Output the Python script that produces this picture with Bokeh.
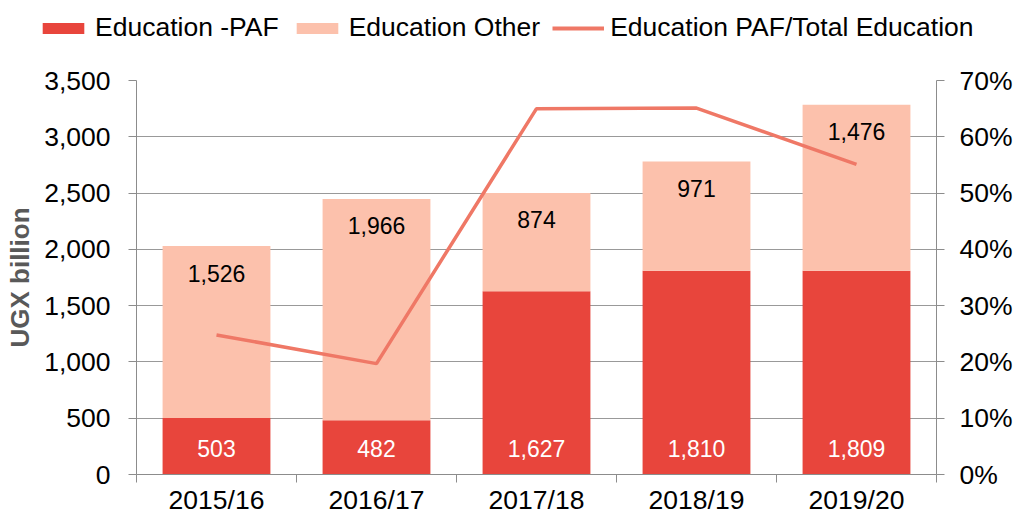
from bokeh.plotting import figure
from bokeh.layouts import column, row
from bokeh.models import (ColumnDataSource, LinearAxis, Range1d, FixedTicker,
                          NumeralTickFormatter, LabelSet, Legend, LegendItem)
from bokeh.core.properties import value
from bokeh.embed import file_html
from bokeh.resources import INLINE

# ---- data ----
years = ["2015/16", "2016/17", "2017/18", "2018/19", "2019/20"]
edu_paf = [503, 482, 1627, 1810, 1809]
edu_other = [1526, 1966, 874, 971, 1476]
paf_share = [0.248, 0.197, 0.650, 0.651, 0.551]
series_names = ["Education -PAF", "Education Other", "Education PAF/Total Education"]

FONT = "Liberation Sans"
RED = "#E8453C"
PEACH = "#FCC1AC"
LINE = "#EF7866"
GRID = "#999999"
AXIS = "#8C8C8C"
TICK_FS = "26.5px"

xpos = [i + 0.5 for i in range(len(years))]
total = [a + b for a, b in zip(edu_paf, edu_other)]
src = ColumnDataSource(dict(
    x=xpos, paf=edu_paf, other=edu_other, total=total, share=paf_share,
    zero=[0] * len(years),
    paf_lbl=[f"{v:,}" for v in edu_paf],
    other_lbl=[f"{v:,}" for v in edu_other],
))

# ---------------- main chart ----------------
p = figure(width=1015, height=467, output_backend="svg", toolbar_location=None,
           x_range=Range1d(0, len(years)), y_range=Range1d(0, 3500),
           min_border_left=136, min_border_right=78, min_border_top=30,
           min_border_bottom=43)
p.outline_line_color = None
p.extra_y_ranges = {"pct": Range1d(0, 0.7)}

p.vbar_stack(["paf", "other"], x="x", width=0.674, source=src,
             color=[RED, PEACH], line_color=None)
p.line("x", "share", source=src, y_range_name="pct",
       line_color=LINE, line_width=3.5)

ya = p.yaxis[0]
ya.ticker = FixedTicker(ticks=list(range(0, 3501, 500)))
ya.formatter = NumeralTickFormatter(format="0,0")
ya.axis_label = "UGX billion"
ya.axis_label_text_font = FONT
ya.axis_label_text_font_size = "26px"
ya.axis_label_text_font_style = "bold"
ya.axis_label_text_color = "#595959"
ya.axis_label_standoff = 6

ra = LinearAxis(y_range_name="pct",
                ticker=FixedTicker(ticks=[i / 10 for i in range(8)]),
                formatter=NumeralTickFormatter(format="0%"))
p.add_layout(ra, "right")

xa = p.xaxis[0]
xa.ticker = FixedTicker(ticks=xpos, minor_ticks=list(range(len(years) + 1)))
xa.major_label_overrides = {x: y for x, y in zip(xpos, years)}
xa.minor_tick_line_color = AXIS
xa.minor_tick_out = 8
xa.minor_tick_in = 0
xa.major_label_standoff = 2

for ax in (ya, ra):
    ax.major_tick_out = 8
    ax.major_tick_in = 0
    ax.minor_tick_line_color = None
    ax.major_tick_line_color = AXIS
ya.major_label_standoff = 18
ra.major_label_standoff = 15
for ax in (ya, ra, xa):
    ax.axis_line_color = AXIS
    ax.major_label_text_font = FONT
    ax.major_label_text_font_size = TICK_FS
    ax.major_label_text_color = "#000000"
xa.major_tick_line_color = None

p.xgrid.grid_line_color = None
p.ygrid.grid_line_color = GRID
p.ygrid.ticker = ya.ticker

p.add_layout(LabelSet(x="x", y="zero", text="paf_lbl", source=src, y_offset=26,
                      text_align="center", text_baseline="middle",
                      text_font=value(FONT), text_font_size="23px",
                      text_color="white"))
p.add_layout(LabelSet(x="x", y="total", text="other_lbl", source=src, y_offset=-27,
                      text_align="center", text_baseline="middle",
                      text_font=value(FONT), text_font_size="23px",
                      text_color="black"))

# ---------------- legend strip (series drawn off-range, only the key shows) ----
lg = figure(width=1015, height=50, output_backend="svg", toolbar_location=None,
            x_range=Range1d(-10, -9), y_range=Range1d(-10, -9),
            x_axis_location=None, y_axis_location=None,
            min_border_left=0, min_border_right=0, min_border_top=0,
            min_border_bottom=0)
lg.outline_line_color = None
lg.grid.visible = False
lbars = lg.vbar_stack(["paf", "other"], x="x", width=0.674, source=src,
                      color=[RED, PEACH], line_color=None)
lline = lg.line("x", "share", source=src, line_color=LINE, line_width=4)

legend = Legend(items=[
    LegendItem(label=series_names[0], renderers=[lbars[0]]),
    LegendItem(label=series_names[1], renderers=[lbars[1]]),
    LegendItem(label=series_names[2], renderers=[lline]),
], orientation="horizontal", location=(37, 7),
    glyph_width=52, glyph_height=14, label_standoff=6, spacing=12,
    label_text_font=FONT, label_text_font_size="26.5px", label_text_color="#000000",
    padding=0, margin=0, border_line_color=None, background_fill_alpha=0)
lg.add_layout(legend)

layout = column(row(lg), p, spacing=0)
open("out.html", "w").write(file_html(layout, INLINE))
